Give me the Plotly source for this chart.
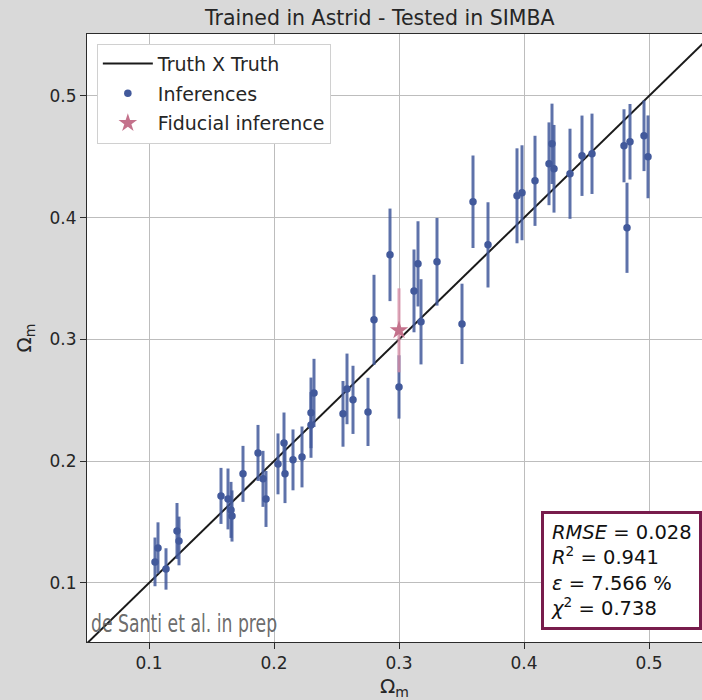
import plotly.graph_objects as go

# True Omega_m of each SIMBA test simulation and the network's inference
truth_om = [0.1048, 0.1072, 0.1136, 0.1224, 0.1240, 0.1576, 0.1632, 0.1656, 0.1664,
            0.1752, 0.1872, 0.1912, 0.1936, 0.2032, 0.2080, 0.2088, 0.2152, 0.2224,
            0.2296, 0.2296, 0.2320, 0.2552, 0.2584, 0.2632, 0.2752, 0.2800, 0.2928,
            0.3000, 0.3120, 0.3152, 0.3176, 0.3304, 0.3504, 0.3592, 0.3712, 0.3944,
            0.3984, 0.4088, 0.4200, 0.4224, 0.4240, 0.4368, 0.4464, 0.4544, 0.4800,
            0.4824, 0.4848, 0.4960, 0.4992]
pred_om = [0.1173, 0.1288, 0.1115, 0.1427, 0.1345, 0.1715, 0.1690, 0.1600, 0.1550,
           0.1896, 0.2068, 0.1855, 0.1690, 0.1978, 0.2150, 0.1896, 0.2011, 0.2035,
           0.2397, 0.2298, 0.2561, 0.2389, 0.2594, 0.2504, 0.2405, 0.3161, 0.3695,
           0.2610, 0.3399, 0.3621, 0.3145, 0.3638, 0.3128, 0.4131, 0.3777, 0.4180,
           0.4205, 0.4303, 0.4443, 0.4607, 0.4402, 0.4361, 0.4509, 0.4525, 0.4591,
           0.3917, 0.4624, 0.4673, 0.4500]
pred_err = [0.020, 0.021, 0.017, 0.023, 0.020, 0.023, 0.025, 0.023, 0.021,
            0.023, 0.023, 0.023, 0.023, 0.025, 0.025, 0.024, 0.025, 0.025,
            0.029, 0.027, 0.028, 0.027, 0.029, 0.028, 0.028, 0.037, 0.038,
            0.026, 0.034, 0.035, 0.035, 0.036, 0.033, 0.038, 0.035, 0.039,
            0.039, 0.037, 0.034, 0.033, 0.036, 0.037, 0.033, 0.033, 0.030,
            0.037, 0.031, 0.029, 0.034]

# Fiducial simulation
fid_truth = [0.300]
fid_pred = [0.3075]
fid_err = [0.0345]

# Identity line
diag = [0.05, 0.55]

# Summary statistics shown in the box
rmse, r2, eps, chi2 = 0.028, 0.941, 7.566, 0.738

ticks = [0.1, 0.2, 0.3, 0.4, 0.5]
tick_text = ["0.1", "0.2", "0.3", "0.4", "0.5"]

BLUE = "#42599b"
PINK = "#c4728c"
FONT = "DejaVu Sans, Verdana, sans-serif"
TXT = "#262626"

fig = go.Figure()

fig.add_trace(go.Scatter(
    x=diag, y=diag, mode="lines", name="Truth X Truth",
    line=dict(color="#1a1a1a", width=2), legendgroup="a",
))
fig.add_trace(go.Scatter(
    x=truth_om, y=pred_om, mode="markers", name="Inferences",
    marker=dict(color=BLUE, size=7.5),
    error_y=dict(type="data", array=pred_err, visible=True, width=0,
                 thickness=3, color="rgba(66,89,155,0.85)"),
    legendgroup="b",
))
fig.add_trace(go.Scatter(
    x=fid_truth, y=fid_pred, mode="markers", name="Fiducial inference",
    marker=dict(color=PINK, size=14, symbol="star", line=dict(width=0)),
    error_y=dict(type="data", array=fid_err, visible=True, width=0,
                 thickness=3, color="rgba(214,140,165,0.8)"),
    legendgroup="c",
))

axis_common = dict(
    tickvals=ticks, ticktext=tick_text,
    showgrid=True, gridcolor="#bdbdbd", gridwidth=1,
    showline=True, linecolor="#2b2b2b", linewidth=1,
    ticks="outside", ticklen=6, tickcolor="#2b2b2b", tickwidth=1,
    tickfont=dict(family=FONT, size=17, color=TXT),
    zeroline=False,
)

fig.update_xaxes(
    range=[0.0504, 0.5424], mirror=True,
    title=dict(text="Ω<sub>m</sub>", font=dict(family=FONT, size=20, color=TXT), standoff=12),
    **axis_common,
)
fig.update_yaxes(
    range=[0.0515, 0.5509],
    title=dict(text="Ω<sub>m</sub>", font=dict(family=FONT, size=20, color=TXT), standoff=12),
    **axis_common,
)

fig.add_annotation(
    xref="paper", yref="paper", x=0.738, y=0.019, xanchor="left", yanchor="bottom",
    align="left", showarrow=False,
    text=(f"<i>RMSE</i> = {rmse:.3f}<br><i>R</i><sup>2</sup> = {r2:.3f}"
          f"<br><i>ε</i> = {eps:.3f} %<br><i>χ</i><sup>2</sup> = {chi2:.3f}"),
    font=dict(family=FONT, size=19.5, color="#111111"),
    bgcolor="white", bordercolor="#781c4c", borderwidth=3, borderpad=7,
)

fig.add_annotation(
    xref="paper", yref="paper", x=0.004, y=0.031, xanchor="left", yanchor="middle",
    showarrow=False, text="de Santi et al. in prep", name="credit",
    font=dict(family="DejaVu Sans, sans-serif", size=25, color="rgba(90,90,90,0.9)"),
)

fig.update_layout(
    width=702, height=700,
    margin=dict(l=87, r=0, t=34, b=58),
    paper_bgcolor="#d9d9d9", plot_bgcolor="white",
    title=dict(text="Trained in Astrid - Tested in SIMBA", x=0.541, xanchor="center",
               y=0.974, yanchor="middle", font=dict(family=FONT, size=20.5, color=TXT)),
    legend=dict(x=0.016, y=0.984, xanchor="left", yanchor="top",
                bgcolor="white", bordercolor="#d0d0d0", borderwidth=1, itemwidth=50,
                font=dict(family=FONT, size=19, color=TXT), tracegroupgap=2),
    font=dict(family=FONT),
)

# Narrow the credit line into a condensed look
post = """
document.querySelectorAll('.annotation-text').forEach(function(t){
  if (t.textContent.indexOf('de Santi') === 0) {
    t.style.transformBox = 'fill-box';
    t.style.transformOrigin = 'left center';
    t.style.transform = 'scaleX(0.69)';
  }
});
"""

fig.write_html("out.html", post_script=post)
